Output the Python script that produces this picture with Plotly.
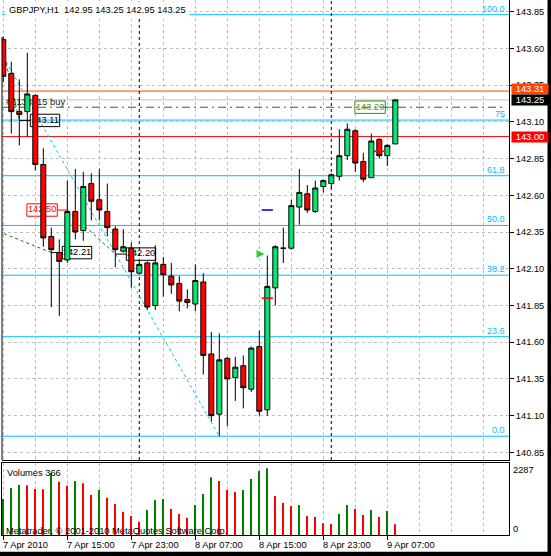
import plotly.graph_objects as go
import pandas as pd

# ---------------- data ----------------
times = pd.date_range("2010-04-07 07:00", periods=50, freq="h")

bar_open = [143.66, 143.43, 143.17, 143.17, 143.28, 142.81, 142.32, 142.21, 142.16, 142.49,
            142.36, 142.68, 142.57, 142.49, 142.37, 142.22, 142.24, 142.07, 142.14, 141.85,
            142.13, 142.05, 142.00, 141.89, 141.86, 142.01, 141.52, 141.11, 141.49, 141.36,
            141.44, 141.28, 141.57, 141.14, 141.97, 142.24, 142.24, 142.52, 142.61, 142.49,
            142.66, 142.68, 142.73, 142.87, 143.04, 142.83, 142.72, 142.98, 142.87, 142.95]
bar_high = [143.68, 143.51, 143.39, 143.57, 143.29, 142.92, 142.38, 142.30, 142.70, 142.78,
            142.76, 142.75, 142.78, 142.68, 142.39, 142.37, 142.28, 142.15, 142.15, 142.26,
            142.18, 142.14, 142.05, 141.96, 142.13, 142.07, 141.67, 141.66, 141.50, 141.50,
            141.51, 141.57, 141.68, 142.19, 142.26, 142.38, 142.57, 142.78, 142.67, 142.70,
            142.71, 142.75, 143.05, 143.09, 143.05, 142.89, 143.02, 142.99, 142.95, 143.25]
bar_low = [143.37, 143.02, 142.94, 143.00, 142.77, 142.25, 141.84, 141.78, 142.14, 142.30,
           142.29, 142.43, 142.43, 142.32, 142.11, 142.21, 141.97, 142.06, 141.82, 141.82,
           141.91, 141.93, 141.81, 141.83, 141.81, 141.38, 141.06, 140.96, 141.03, 141.20,
           141.15, 141.26, 141.10, 141.10, 141.85, 142.14, 142.23, 142.40, 142.48, 142.48,
           142.62, 142.65, 142.70, 142.84, 142.76, 142.69, 142.72, 142.85, 142.80, 142.95]
bar_close = [143.41, 143.17, 143.15, 143.29, 142.81, 142.31, 142.23, 142.15, 142.49, 142.35,
             142.66, 142.56, 142.50, 142.38, 142.23, 142.25, 142.08, 142.13, 141.84, 142.14,
             142.06, 141.99, 141.88, 141.87, 142.02, 141.51, 141.10, 141.48, 141.35, 141.43,
             141.29, 141.56, 141.13, 141.98, 142.25, 142.24, 142.53, 142.62, 142.50, 142.65,
             142.70, 142.74, 142.87, 143.05, 142.82, 142.71, 142.97, 142.87, 142.94, 143.25]
volume = [1234, 1612, 1714, 1705, 1577, 1570, 2126, 1828, 1690, 1852,
          1773, 1372, 1543, 1279, 1063, 799, 652, 456, 857, 1200,
          1234, 892, 720, 593, 1029, 1406, 1979, 1852, 1543, 1474,
          1543, 1920, 2195, 2287, 1337, 1097, 994, 1029, 652, 617,
          401, 377, 720, 1029, 892, 686, 857, 617, 823, 366]

price_ticks = [143.85, 143.60, 143.35, 143.10, 142.85, 142.60, 142.35,
               142.10, 141.85, 141.60, 141.35, 141.10, 140.85]
time_label_bars = [0, 8, 16, 24, 32, 40, 48]
time_labels = ["7 Apr 2010", "7 Apr 15:00", "7 Apr 23:00", "8 Apr 07:00",
               "8 Apr 15:00", "8 Apr 23:00", "9 Apr 07:00"]
grid_bars = [0, 4, 8, 12, 16, 20, 24, 28, 32, 36, 40, 44, 48, 52, 56, 60]

fib_high, fib_low = 143.83, 140.96
fib_high_bar, fib_low_bar = -3, 27
fib_levels = [0.0, 23.6, 38.2, 50.0, 61.8, 75.0, 100.0]
fib_texts = ["0.0", "23.6", "38.2", "50.0", "61.8", "75", "100.0"]

ask_price = 143.31
bid_price = 143.25
level_price = 143.00
order_price = 143.20
order_text = "#6133215 buy"

trade_x0 = [-1, -2, 8]
trade_y0 = [143.82, 142.385, 142.50]
trade_x1 = [2, 6, 14]
trade_y1 = [143.11, 142.21, 142.20]

plabel_bar = [2, 6, 8, 14, 49]
plabel_price = [143.11, 142.21, 142.50, 142.20, 143.20]
plabel_side = ["right", "right", "left", "right", "left"]

mark_bar = [33, 33, 47]
mark_price = [141.90, 142.50, 142.90]
arrow_bar = [32.65]
arrow_price = [142.20]

symbol = "GBPJPY,H1"

# ---------------- styles ----------------
FONT = "Liberation Sans"
FS = 9.3
FIB = "#00BFFF"
GRID = "#BEBEBE"
BULL = "#00E676"
BEAR = "#FF0000"
plabel_line = ["black", "black", "#FF0000", "black", "#2E8B2E"]
plabel_text = ["black", "black", "#FF0000", "black", "#6B8E23"]
mark_color = ["#FF0000", "#0000FF", "#FF0000"]

L, R, T, B = 2, 42, 0, 21
W, H = 551, 556
PH = H - T - B          # plot height in px (535)
PW = W - L - R          # plot width in px (507)
BAR_PX = 8.0            # pixels per bar


def pyp(pix):
    return (PH - pix) / PH


def pxp(pix):
    return (pix - L) / PW


idx = list(range(len(times)))
vol_colors = ["#008000"] + ["#008000" if volume[i] > volume[i - 1] else "#FF0000"
                            for i in range(1, len(volume))]

fig = go.Figure()

# ---- texts that sit beneath the candles (base subplot) ----
lab_x = [b + (25.7 if s == "right" else -25.2) / BAR_PX for b, s in zip(plabel_bar, plabel_side)]
fig.add_trace(go.Scatter(
    x=lab_x, y=plabel_price, mode="text", text=[f"{p:.2f}" for p in plabel_price],
    textposition="middle center", textfont=dict(family=FONT, size=FS, color=plabel_text),
    xaxis="x", yaxis="y", hoverinfo="skip", showlegend=False, cliponaxis=False))
fig.add_trace(go.Scatter(
    x=[0.35], y=[order_price], mode="text", text=[order_text], textposition="top right",
    textfont=dict(family=FONT, size=FS, color="#202020"),
    xaxis="x", yaxis="y", hoverinfo="skip", showlegend=False))

# ---- candles and markers (overlay subplot, drawn on top) ----
fig.add_trace(go.Candlestick(
    x=idx, open=bar_open, high=bar_high, low=bar_low, close=bar_close,
    increasing=dict(line=dict(color="black", width=1), fillcolor=BULL),
    decreasing=dict(line=dict(color="black", width=1), fillcolor=BEAR),
    whiskerwidth=0, xaxis="x", yaxis="y3", hoverinfo="skip", showlegend=False))
fig.add_trace(go.Scatter(
    x=mark_bar, y=mark_price, mode="markers", xaxis="x", yaxis="y3",
    marker=dict(symbol="line-ew", size=8, line=dict(color=mark_color, width=1.6)),
    hoverinfo="skip", showlegend=False))
fig.add_trace(go.Scatter(
    x=arrow_bar, y=arrow_price, mode="markers", xaxis="x", yaxis="y3",
    marker=dict(symbol="arrow-right", size=8, color="#32CD32"),
    hoverinfo="skip", showlegend=False))

# ---- volumes ----
fig.add_trace(go.Bar(
    x=idx, y=volume, marker=dict(color=vol_colors, line=dict(width=0)),
    width=0.15, xaxis="x2", yaxis="y2", hoverinfo="skip", showlegend=False))

shapes = []
for lv in fib_levels:
    p = fib_low + lv / 100 * (fib_high - fib_low)
    shapes.append(dict(type="line", xref="x domain", x0=0, x1=1, yref="y", y0=p, y1=p,
                       line=dict(color=FIB, width=1), layer="below"))
shapes.append(dict(type="line", xref="x", yref="y", x0=fib_high_bar, y0=fib_high,
                   x1=fib_low_bar, y1=fib_low, line=dict(color=FIB, width=1, dash="dot"),
                   layer="below"))
shapes.append(dict(type="line", xref="x domain", x0=0, x1=1, yref="y", y0=ask_price, y1=ask_price,
                   line=dict(color="#FF4500", width=1), layer="below"))
shapes.append(dict(type="line", xref="x domain", x0=0, x1=1, yref="y", y0=bid_price, y1=bid_price,
                   line=dict(color="#C0C0C0", width=1), layer="below"))
shapes.append(dict(type="line", xref="x domain", x0=0, x1=1, yref="y", y0=level_price, y1=level_price,
                   line=dict(color="#FF0000", width=1), layer="below"))
shapes.append(dict(type="line", xref="x domain", x0=0, x1=0.987, yref="y", y0=order_price, y1=order_price,
                   line=dict(color="#008000", width=1, dash="8px,4px,2px,4px"), layer="below"))
for i in range(1, len(times)):
    if times[i].date() != times[i - 1].date():
        shapes.append(dict(type="line", xref="x", x0=i, x1=i, yref="y domain", y0=0, y1=1,
                           line=dict(color="black", width=1, dash="3px,3px"), layer="below"))
for a, b, c, d in zip(trade_x0, trade_y0, trade_x1, trade_y1):
    shapes.append(dict(type="line", xref="x", yref="y", x0=a, y0=b, x1=c, y1=d,
                       line=dict(color="#008000", width=1, dash="dot"), layer="below"))
for b, p, side, lc in zip(plabel_bar, plabel_price, plabel_side, plabel_line):
    if side == "right":
        c0, c1, b0, b1 = 0, 11, 11, 40.4
    else:
        c0, c1, b0, b1 = -10, 0, -40.4, -10
    shapes.append(dict(type="line", xref="x", xsizemode="pixel", xanchor=b, x0=c0, x1=c1,
                       yref="y", y0=p, y1=p, line=dict(color=lc, width=1), layer="below"))
    shapes.append(dict(type="rect", xref="x", xsizemode="pixel", xanchor=b, x0=b0, x1=b1,
                       yref="y", ysizemode="pixel", yanchor=p, y0=-6.2, y1=6.2,
                       line=dict(color=lc, width=1), fillcolor="rgba(0,0,0,0)", layer="below"))
shapes.append(dict(type="line", xref="x domain", x0=0, x1=0, yref="y domain", y0=0, y1=(460 - 37) / 460,
                   line=dict(color="black", width=1), layer="above"))
shapes.append(dict(type="rect", xref="paper", yref="paper", x0=pxp(547.5), x1=pxp(560),
                   y0=pyp(560), y1=pyp(-5), fillcolor="black", line=dict(width=0), layer="above"))
shapes.append(dict(type="rect", xref="paper", yref="paper", x0=pxp(-5), x1=pxp(560),
                   y0=pyp(560), y1=pyp(551.7), fillcolor="black", line=dict(width=0), layer="above"))

ann = []
ann.append(dict(xref="paper", yref="paper", x=pxp(5), y=pyp(10), xanchor="left", yanchor="middle",
                text=f"{symbol}\u00a0\u00a0{bar_open[-1]:.2f} {bar_high[-1]:.2f} {bar_low[-1]:.2f} {bar_close[-1]:.2f}",
                showarrow=False, bgcolor="white", borderpad=3,
                font=dict(family=FONT, size=FS, color="black")))
for lv, t in zip(fib_levels, fib_texts):
    p = fib_low + lv / 100 * (fib_high - fib_low)
    ann.append(dict(xref="x domain", yref="y", x=pxp(506), y=p, xanchor="right", yanchor="bottom",
                    text=t, showarrow=False, borderpad=0, yshift=0,
                    font=dict(family=FONT, size=9, color=FIB)))
for p, bg, ys in [(ask_price, "#FF4500", 1.7), (bid_price, "black", 0), (level_price, "#FF0000", 0)]:
    ann.append(dict(xref="paper", yref="y", x=1, y=p, xanchor="left", yanchor="middle", xshift=2,
                    yshift=ys, text=f"{p:.2f}", showarrow=False, bgcolor=bg, borderpad=0,
                    width=36, height=10, align="center",
                    font=dict(family=FONT, size=FS, color="white")))
ann.append(dict(xref="paper", yref="paper", x=pxp(6), y=pyp(472.5), xanchor="left", yanchor="middle",
                text=f"Volumes {volume[-1]}", showarrow=False, borderpad=0,
                font=dict(family=FONT, size=FS, color="black")))
ann.append(dict(xref="paper", yref="paper", x=pxp(5), y=pyp(531), xanchor="left", yanchor="middle",
                text="Metatrader, © 2001-2010 MetaQuotes Software Corp.", showarrow=False, borderpad=0,
                font=dict(family=FONT, size=FS, color="black")))
ann.append(dict(xref="paper", yref="y2 domain", x=1, y=1, xanchor="left", yanchor="top", xshift=3,
                yshift=-1, text=f"{max(volume)}", showarrow=False, borderpad=0,
                font=dict(family=FONT, size=FS, color="black")))
ann.append(dict(xref="paper", yref="y2 domain", x=1, y=0, xanchor="left", yanchor="bottom", xshift=3,
                text="0", showarrow=False, borderpad=0,
                font=dict(family=FONT, size=FS, color="black")))
for b, t in zip(time_label_bars, time_labels):
    ann.append(dict(xref="x2", yref="paper", x=b, y=pyp(544.5), xanchor="left", yanchor="middle",
                    xshift=-1.5, text=t, showarrow=False, borderpad=0,
                    font=dict(family=FONT, size=FS, color="black")))

xr = [-(3.3 - L) / BAR_PX, (509 - 3.3) / BAR_PX]
yr = [140.798, 143.930]
grid_common = dict(showgrid=True, gridcolor=GRID, gridwidth=1, griddash="3px,3px", zeroline=False)

fig.update_layout(
    width=W, height=H, margin=dict(l=L, r=R, t=T, b=B, pad=0),
    paper_bgcolor="white", plot_bgcolor="white", showlegend=False, hovermode=False,
    font=dict(family=FONT, size=FS, color="black"),
    boxgap=0.375, boxgroupgap=0,
    xaxis=dict(domain=[0, 1], anchor="y", range=xr, tickmode="array", tickvals=grid_bars,
               showticklabels=False, ticks="", showline=True, linecolor="black", linewidth=1,
               rangeslider=dict(visible=False), fixedrange=True, **grid_common),
    yaxis=dict(domain=[pyp(460), 1], anchor="x", side="right", range=yr,
               tickmode="array", tickvals=price_ticks, ticktext=[f"{v:.2f}" for v in price_ticks],
               ticks="outside", ticklen=4, tickcolor="black", tickwidth=1,
               showline=True, linecolor="black", linewidth=1,
               tickfont=dict(family=FONT, size=FS, color="black"), fixedrange=True, **grid_common),
    yaxis3=dict(overlaying="y", anchor="x", side="right", range=yr, visible=False,
                showgrid=False, zeroline=False, fixedrange=True),
    xaxis2=dict(domain=[0, 1], anchor="y2", range=xr, tickmode="array", tickvals=time_label_bars,
                showticklabels=False, ticks="outside", ticklen=4, tickcolor="black",
                showline=True, mirror=True, linecolor="black", linewidth=1, fixedrange=True,
                minor=dict(tickmode="array", tickvals=grid_bars, showgrid=True, gridcolor=GRID,
                           griddash="3px,3px", ticks=""),
                **grid_common),
    yaxis2=dict(domain=[0, pyp(463)], anchor="x2", side="right", range=[0, 2469],
                showticklabels=False, ticks="", showgrid=False, zeroline=False,
                showline=True, mirror=True, linecolor="black", linewidth=1, fixedrange=True),
    shapes=shapes, annotations=ann,
)

fig.write_html("out.html", config={"displayModeBar": False},
               post_script="document.body.style.margin='0px';document.body.style.overflow='hidden';")
